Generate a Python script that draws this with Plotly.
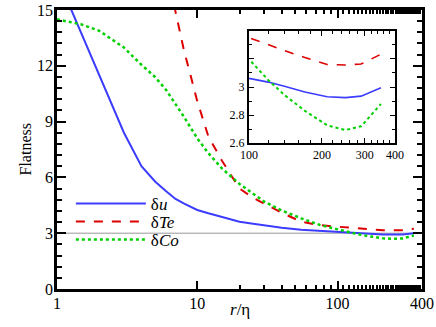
import plotly.graph_objects as go

# separation r/eta and flatness of the three increments
r = [1, 1.5, 2, 3, 4, 5, 6, 7, 8, 10, 12, 15, 20, 25, 30, 40, 55, 75,
     100, 120, 140, 170, 210, 250, 290, 350]
flat_u = [16.8, 13.7, 11.5, 8.4, 6.6, 5.78, 5.25, 4.84, 4.6, 4.25, 4.07, 3.87,
          3.62, 3.51, 3.42, 3.29, 3.18, 3.11,
          3.062, 3.035, 3.005, 2.965, 2.93, 2.924, 2.935, 2.995]
flat_te = [None, None, None, None, None, 20.0, 17.1, 14.9, 12.9, 10.1, 8.2, 6.9,
           5.4, 4.9, 4.58, 4.1, 3.62, 3.43,
           3.35, 3.30, 3.26, 3.21, 3.16, 3.157, 3.164, 3.234]
flat_co = [14.5, 14.22, 13.88, 12.98, 12.05, 11.4, 10.7, 9.95, 9.28, 8.1, 7.3, 6.48,
           5.65, 5.12, 4.7, 4.22, 3.8, 3.44,
           3.198, 3.05, 2.943, 2.83, 2.727, 2.693, 2.72, 2.879]

names = ["\u03b4<i>u</i>", "\u03b4<i>Te</i>", "\u03b4<i>Co</i>"]
colors = ["#3c3cff", "#dd0000", "#00d000"]
dashes = ["solid", "dash", "dot"]
widths = [2, 2, 2.5]
legends = ["legend", "legend2", "legend3"]
series = [flat_u, flat_te, flat_co]

serif = "Liberation Serif"

fig = go.Figure()
for name, ys, c, d, w, lg in zip(names, series, colors, dashes, widths, legends):
    fig.add_trace(go.Scatter(x=r, y=ys, mode="lines", name=name, legend=lg,
                             line=dict(color=c, dash=d, width=w),
                             xaxis="x", yaxis="y"))
# inset: same data, zoomed on the large scales
for name, ys, c, d, w in zip(names, series, colors, dashes, widths):
    fig.add_trace(go.Scatter(x=r, y=ys, mode="lines", name=name, showlegend=False,
                             line=dict(color=c, dash=d, width=w * 0.8),
                             xaxis="x2", yaxis="y2"))

# Gaussian value 3
fig.add_shape(type="line", xref="x domain", yref="y", x0=0, x1=1, y0=3, y1=3,
              line=dict(color="#999999", width=1), layer="below")
fig.add_shape(type="line", xref="x2 domain", yref="y2", x0=0, x1=1, y0=3, y1=3,
              line=dict(color="#999999", width=1), layer="below")

minor_main = [v for v in range(20, 100, 10)] + [v for v in range(110, 400, 10)]

leg_style = dict(x=0.038, xanchor="left", yanchor="middle",
                 bgcolor="rgba(0,0,0,0)", borderwidth=0,
                 font=dict(family=serif, size=17), itemwidth=70)

fig.update_layout(
    width=436, height=327,
    margin=dict(l=57, r=14, t=10, b=38),
    paper_bgcolor="white", plot_bgcolor="white",
    font=dict(family=serif, size=15, color="black"),
    xaxis=dict(
        type="log", range=[0, 2.60206], automargin=False,
        tickvals=[1, 10, 100, 400], ticktext=["1", "10", "100", "400"],
        ticks="inside", ticklen=8, tickwidth=1.5, tickcolor="black",
        minor=dict(tickvals=minor_main, ticks="inside", ticklen=4, tickcolor="black"),
        showline=True, linewidth=2.5, linecolor="black", mirror="allticks",
        showgrid=False, zeroline=False,
        tickfont=dict(family=serif, size=16), ticklabelstandoff=-2,
    ),
    yaxis=dict(
        range=[0, 15], tickvals=[0, 3, 6, 9, 12, 15], automargin=False,
        ticks="inside", ticklen=9, tickwidth=1.5, tickcolor="black",
        minor=dict(dtick=0.6, tick0=0, ticks="inside", ticklen=5, tickcolor="black"),
        showline=True, linewidth=2.5, linecolor="black", mirror="allticks",
        showgrid=False, zeroline=False,
        tickfont=dict(family=serif, size=16), ticklabelstandoff=-2,
    ),
    xaxis2=dict(
        type="log", range=[2, 2.60206], domain=[0.526, 0.926], anchor="y2",
        automargin=False,
        tickvals=[100, 200, 300, 400], ticktext=["100", "200", "300", "400"],
        ticks="inside", ticklen=5, tickwidth=1, tickcolor="black",
        minor=dict(tickvals=list(range(120, 400, 20)), ticks="inside", ticklen=3,
                   tickcolor="black"),
        showline=True, linewidth=2, linecolor="black", mirror="allticks",
        showgrid=False, zeroline=False, tickfont=dict(family=serif, size=12),
        ticklabelstandoff=0,
    ),
    yaxis2=dict(
        range=[2.6, 3.4], domain=[0.523, 0.925], anchor="x2", automargin=False,
        tickvals=[2.6, 2.8, 3.0, 3.2, 3.4], ticktext=["2.6", "2.8", "3", "", ""],
        ticks="inside", ticklen=5, tickwidth=1, tickcolor="black",
        minor=dict(dtick=0.1, tick0=2.6, ticks="inside", ticklen=3, tickcolor="black"),
        showline=True, linewidth=2, linecolor="black", mirror="allticks",
        showgrid=False, zeroline=False, tickfont=dict(family=serif, size=12),
        ticklabelstandoff=0,
    ),
    legend=dict(leg_style, y=(289 - 204) / 279),
    legend2=dict(leg_style, y=(289 - 222) / 279),
    legend3=dict(leg_style, y=(289 - 240) / 279),
    annotations=[
        dict(text="<i>r</i>/\u03b7", xref="paper", yref="paper",
             x=0.5, y=-0.075, yanchor="middle", showarrow=False,
             font=dict(family=serif, size=17)),
        dict(text="Flatness", xref="paper", yref="paper", textangle=-90,
             x=-0.085, y=0.5, xanchor="center", yanchor="middle", showarrow=False,
             font=dict(family=serif, size=16)),
    ],
    showlegend=True,
)

# drop the default 8px page margin so the figure sits at the window corner
fig.write_html("out.html", config={"displayModeBar": False},
               post_script="document.body.style.margin='0';")
